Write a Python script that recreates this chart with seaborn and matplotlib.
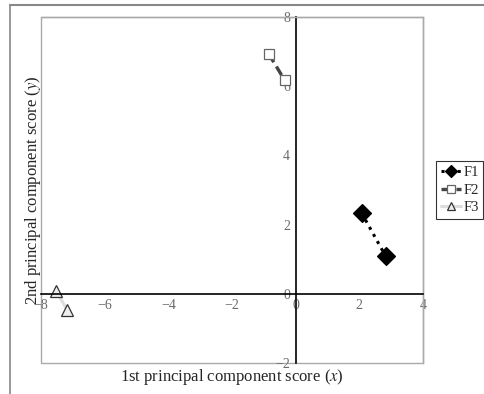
import matplotlib
matplotlib.use("Agg")
import matplotlib.pyplot as plt
from matplotlib.lines import Line2D
from matplotlib.patches import Rectangle
import seaborn as sns
import pandas as pd

# Scores.
series_names = ["F1", "F2", "F3"]
f1_x = [2.07, 2.83]
f1_y = [2.34, 1.08]
f2_x = [-0.85, -0.35]
f2_y = [6.94, 6.18]
f3_x = [-7.52, -7.17]
f3_y = [0.07, -0.48]
x_ticks = [-8, -6, -4, -2, 0, 2, 4]
y_ticks = [-2, 0, 2, 4, 6, 8]

df = pd.DataFrame({
    "x": f1_x + f2_x + f3_x,
    "y": f1_y + f2_y + f3_y,
    "series": ["F1"] * len(f1_x) + ["F2"] * len(f2_x) + ["F3"] * len(f3_x),
})

sns.set_style("white")
plt.rcParams["font.family"] = ["Liberation Serif", "DejaVu Serif"]
plt.rcParams["mathtext.fontset"] = "stix"

fig = plt.figure(figsize=(4.84, 3.94), dpi=100)
ax = fig.add_axes([41 / 484, 1 - 363 / 394, 382 / 484, 346 / 394])

styles = {
    "F1": dict(color="black", linestyle=":", linewidth=2.2, marker="D", markersize=9,
               markerfacecolor="black", markeredgecolor="black"),
    "F2": dict(color="#444444", linestyle=(0, (3, 1.5)), linewidth=2.4, marker="s", markersize=7,
               markerfacecolor="white", markeredgecolor="#666666"),
    "F3": dict(color="#dddddd", linestyle="-", linewidth=2.2, marker="^", markersize=9,
               markerfacecolor="#eeeeee", markeredgecolor="#333333"),
}
for name in series_names:
    sub = df[df["series"] == name]
    sns.lineplot(data=sub, x="x", y="y", ax=ax, sort=False, label=name,
                 markeredgewidth=0.9, **styles[name])

ax.set_xlim(-8, 4)
ax.set_ylim(-2, 8)
ax.set_xticks(x_ticks)
ax.set_yticks(y_ticks)

# Axes cross at the origin, the plot box stays grey.
ax.spines["left"].set_position(("data", 0))
ax.spines["bottom"].set_position(("data", 0))
for s in ["left", "bottom"]:
    ax.spines[s].set_color("black")
    ax.spines[s].set_linewidth(1.2)
for s in ["top", "right"]:
    ax.spines[s].set_color("#aaaaaa")
    ax.spines[s].set_linewidth(1.0)
ax.add_patch(Rectangle((0, 0), 1, 1, transform=ax.transAxes, fill=False,
                       edgecolor="#aaaaaa", linewidth=1.0, clip_on=False, zorder=0))

ax.tick_params(axis="both", direction="in", length=3, width=0.8, color="#777777",
               labelcolor="#6a6a6a", labelsize=10, pad=4)
ax.set_xlabel("1st principal component score ($\\it{x}$)", fontsize=12)
ax.set_ylabel("2nd principal component score ($\\it{y}$)", fontsize=12)
ax.xaxis.set_label_coords(0.5, -0.012)
ax.yaxis.set_label_coords(0.005, 0.5)

leg = ax.legend(loc="center left", bbox_to_anchor=(1.035, 0.5), frameon=True,
                fancybox=False, fontsize=10.5, handlelength=1.4, handletextpad=0.15,
                borderpad=0.3, labelspacing=0.3, borderaxespad=0)
leg.get_frame().set_edgecolor("black")
leg.get_frame().set_linewidth(0.8)
for h in leg.legend_handles:
    h.set_markersize(6)

# Outer frame lines at top and left.
fig.add_artist(Line2D([10 / 484, 1], [1 - 5 / 394, 1 - 5 / 394], color="#888888", linewidth=1.5))
fig.add_artist(Line2D([10 / 484, 10 / 484], [0, 1 - 5 / 394], color="#888888", linewidth=1.2))

fig.savefig("out.png", dpi=100)
